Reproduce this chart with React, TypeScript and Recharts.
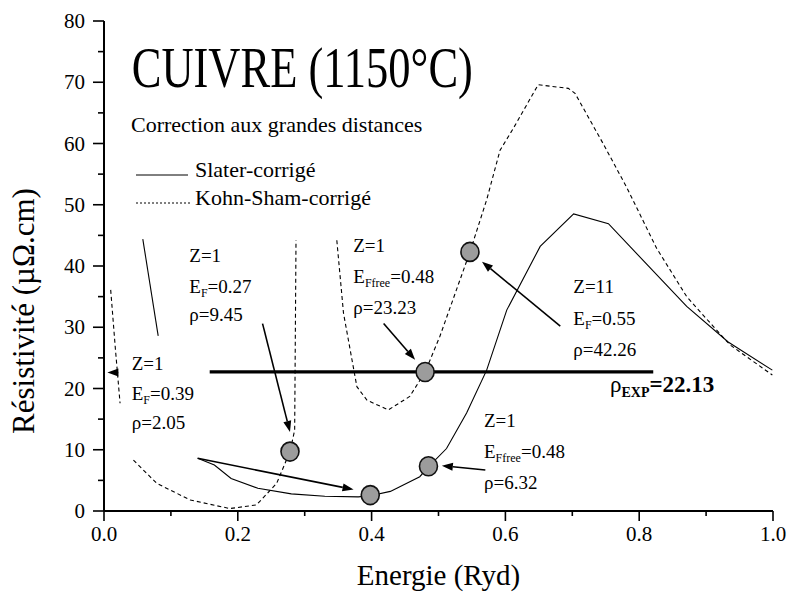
import React from 'react';
import { ComposedChart, Line, Scatter, XAxis, YAxis, ReferenceLine, ReferenceDot, Legend } from 'recharts';

const FONT = 'Liberation Serif';

// ---- axes ----
const xTicks = [0, 0.1, 0.2, 0.3, 0.4, 0.5, 0.6, 0.7, 0.8, 0.9, 1.0];
const xMajorTicks = [0, 0.2, 0.4, 0.6, 0.8, 1.0];
const xMajorLabels = ['0.0', '0.2', '0.4', '0.6', '0.8', '1.0'];
const yTicks = [0, 5, 10, 15, 20, 25, 30, 35, 40, 45, 50, 55, 60, 65, 70, 75, 80];
const yMajorTicks = [0, 10, 20, 30, 40, 50, 60, 70, 80];
const yMajorLabels = ['0', '10', '20', '30', '40', '50', '60', '70', '80'];

// ---- series ----
const slaterUpper = [
  { x: 0.058, y: 44.4 }, { x: 0.081, y: 28.6 },
];
const slaterMain = [
  { x: 0.140, y: 8.6 }, { x: 0.165, y: 7.5 }, { x: 0.19, y: 5.3 }, { x: 0.23, y: 3.7 },
  { x: 0.28, y: 2.8 }, { x: 0.33, y: 2.4 }, { x: 0.38, y: 2.3 }, { x: 0.398, y: 2.5 },
  { x: 0.428, y: 3.2 }, { x: 0.472, y: 5.6 }, { x: 0.485, y: 7.2 }, { x: 0.512, y: 10.2 },
  { x: 0.542, y: 16.0 }, { x: 0.572, y: 23.0 }, { x: 0.602, y: 32.8 }, { x: 0.652, y: 43.2 },
  { x: 0.702, y: 48.5 }, { x: 0.754, y: 46.9 }, { x: 0.871, y: 33.4 }, { x: 0.933, y: 27.6 },
  { x: 0.999, y: 23.0 },
];
const kohnA = [
  { x: 0.010, y: 36.1 }, { x: 0.017, y: 26.5 }, { x: 0.024, y: 17.6 },
];
const kohnB = [
  { x: 0.044, y: 8.3 }, { x: 0.079, y: 4.5 }, { x: 0.129, y: 1.8 }, { x: 0.188, y: 0.4 },
  { x: 0.228, y: 1.0 }, { x: 0.258, y: 4.5 }, { x: 0.278, y: 9.7 }, { x: 0.285, y: 13.2 },
  { x: 0.287, y: 44.2 },
];
const kohnC = [
  { x: 0.348, y: 44.2 }, { x: 0.358, y: 32.3 }, { x: 0.378, y: 20.3 }, { x: 0.393, y: 18.1 },
  { x: 0.425, y: 16.5 }, { x: 0.457, y: 18.7 }, { x: 0.480, y: 22.7 }, { x: 0.502, y: 28.5 },
  { x: 0.547, y: 42.3 }, { x: 0.572, y: 50.8 }, { x: 0.592, y: 58.9 }, { x: 0.612, y: 62.5 },
  { x: 0.649, y: 69.6 }, { x: 0.694, y: 69.0 }, { x: 0.704, y: 68.2 }, { x: 0.746, y: 60.0 },
  { x: 0.781, y: 52.9 }, { x: 0.826, y: 42.9 }, { x: 0.871, y: 35.0 }, { x: 0.911, y: 30.1 },
  { x: 0.936, y: 27.1 }, { x: 0.999, y: 22.2 },
];
const rhoExpLine = [{ x: 0.158, y: 22.7 }, { x: 0.821, y: 22.7 }];
const markedPoints = [
  { x: 0.278, y: 9.7 }, { x: 0.398, y: 2.6 }, { x: 0.485, y: 7.3 },
  { x: 0.480, y: 22.7 }, { x: 0.547, y: 42.3 },
];
const arrowFromX = [0.237, 0.140, 0.418, 0.682, 0.570, 0.021];
const arrowFromY = [30.6, 8.6, 30.6, 30.2, 6.7, 22.6];
const arrowToX = [0.278, 0.373, 0.465, 0.565, 0.505, 0.005];
const arrowToY = [12.9, 3.5, 24.7, 40.7, 7.4, 22.6];

// ---- annotations ----
const noteX = [0.1275, 0.1275, 0.1275, 0.0414, 0.0414, 0.0414, 0.3726, 0.3726, 0.3726, 0.7015, 0.7015, 0.7015, 0.568, 0.568, 0.568];
const noteY = [40.7, 35.54, 31.02, 23.02, 18.12, 13.39, 42.33, 37.18, 32.16, 35.64, 30.37, 25.31, 13.76, 8.6, 3.59];
const noteMain = ['Z=1', 'E', 'ρ=9.45', 'Z=1', 'E', 'ρ=2.05', 'Z=1', 'E', 'ρ=23.23', 'Z=11', 'E', 'ρ=42.26', 'Z=1', 'E', 'ρ=6.32'];
const noteSub = ['', 'F', '', '', 'F', '', '', 'Ffree', '', '', 'F', '', '', 'Ffree', ''];
const noteRest = ['', '=0.27', '', '', '=0.39', '', '', '=0.48', '', '', '=0.55', '', '', '=0.48', ''];

const titleText = 'CUIVRE (1150°C)';
const titlePos = { x: 0.0414, y: 69.18 };
const rhoExpPos = { x: 0.7564, y: 19.4 };
const legendTitle = 'Correction aux grandes distances';
const legendNames = ['Slater-corrigé', 'Kohn-Sham-corrigé'];

const near = (a: number, b: number) => Math.abs(a - b) < 1e-6;

const BottomTick = (p: any) => {
  const v = p.payload.value;
  const i = xMajorTicks.findIndex((t) => near(t, v));
  const major = i >= 0;
  return (
    <g>
      <line x1={p.x} y1={p.y} x2={p.x} y2={p.y + (major ? 10 : 5)} stroke="#000" strokeWidth={1.6} />
      {major && (
        <text x={p.x} y={p.y + 30} textAnchor="middle" fontFamily={FONT} fontSize={21} fill="#000">
          {xMajorLabels[i]}
        </text>
      )}
    </g>
  );
};
const TopTick = (p: any) => {
  const v = p.payload.value;
  const major = xMajorTicks.some((t) => near(t, v));
  return <line x1={p.x} y1={p.y} x2={p.x} y2={p.y + (major ? 10 : 6)} stroke="#000" strokeWidth={1.6} />;
};
const LeftTick = (p: any) => {
  const v = p.payload.value;
  const i = yMajorTicks.findIndex((t) => near(t, v));
  const major = i >= 0;
  return (
    <g>
      <line x1={p.x - (major ? 11 : 6)} y1={p.y} x2={p.x} y2={p.y} stroke="#000" strokeWidth={1.6} />
      {major && (
        <text x={p.x - 19} y={p.y + 7} textAnchor="end" fontFamily={FONT} fontSize={21} fill="#000">
          {yMajorLabels[i]}
        </text>
      )}
    </g>
  );
};
const RightTick = (p: any) => {
  const v = p.payload.value;
  const major = yMajorTicks.some((t) => near(t, v));
  return <line x1={p.x - (major ? 11 : 6)} y1={p.y} x2={p.x} y2={p.y} stroke="#000" strokeWidth={1.6} />;
};

const ArrowShape = (p: any) => {
  const { x1, y1, x2, y2 } = p;
  const dx = x2 - x1;
  const dy = y2 - y1;
  const L = Math.hypot(dx, dy) || 1;
  const ux = dx / L;
  const uy = dy / L;
  const hl = 11;
  const hw = 4;
  const bx = x2 - ux * hl;
  const by = y2 - uy * hl;
  const pts = `${x2},${y2} ${bx - uy * hw},${by + ux * hw} ${bx + uy * hw},${by - ux * hw}`;
  return (
    <g>
      <line x1={x1} y1={y1} x2={bx} y2={by} stroke="#000" strokeWidth={1.6} />
      <polygon points={pts} fill="#000" />
    </g>
  );
};

const PointShape = (p: any) => (
  <ellipse cx={p.cx} cy={p.cy} rx={9} ry={9.5} fill="#9c9c9c" stroke="#111" strokeWidth={1.6} />
);

const LegendBox = () => (
  <svg width={300} height={115} style={{ display: 'block', overflow: 'visible' }}>
    <text x={3} y={31.7} fontFamily={FONT} fontSize={22} fill="#000">{legendTitle}</text>
    <line x1={8} y1={75} x2={60} y2={75} stroke="#000" strokeWidth={1} />
    <text x={67} y={76.7} fontFamily={FONT} fontSize={22} fill="#000">{legendNames[0]}</text>
    <line x1={8} y1={103} x2={62} y2={103} stroke="#000" strokeWidth={1} strokeDasharray="2 2" />
    <text x={67} y={105} fontFamily={FONT} fontSize={22} fill="#000">{legendNames[1]}</text>
  </svg>
);

export default function App() {
  return (
    <div style={{ position: 'absolute', left: 0, top: 0, background: '#fff' }}>
      <ComposedChart width={789} height={594} margin={{ top: 21, right: 16, bottom: 53, left: 44 }}>
        <XAxis
          xAxisId="b" type="number" dataKey="x" domain={[0, 1]} allowDataOverflow ticks={xTicks}
          interval={0} tickSize={0} tickMargin={0} tickLine={false} tick={<BottomTick />} height={30}
          axisLine={{ stroke: '#000', strokeWidth: 2 }}
          label={{
            content: (props: any) => {
              const vb = props.viewBox || { x: 104, y: 511, width: 669 };
              return (
                <text x={vb.x + vb.width / 2} y={vb.y + 74} textAnchor="middle" fontFamily={FONT} fontSize={29} fill="#000">
                  Energie (Ryd)
                </text>
              );
            },
          }}
        />
        <XAxis
          xAxisId="t" orientation="top" type="number" dataKey="x" domain={[0, 1]} allowDataOverflow ticks={xTicks}
          interval={0} tickSize={0} tickMargin={0} tickLine={false} tick={<TopTick />} height={0}
          axisLine={{ stroke: '#000', strokeWidth: 2 }}
        />
        <YAxis
          yAxisId="l" type="number" dataKey="y" domain={[0, 80]} allowDataOverflow ticks={yTicks}
          interval={0} tickSize={0} tickMargin={0} tickLine={false} tick={<LeftTick />} width={60}
          axisLine={{ stroke: '#000', strokeWidth: 2 }}
          label={{
            content: (props: any) => {
              const vb = props.viewBox || { x: 44, y: 21, width: 60, height: 490 };
              const cx = vb.x - 10;
              const cy = vb.y + 290;
              return (
                <text x={cx} y={cy} transform={`rotate(-90 ${cx} ${cy})`} textAnchor="middle" fontFamily={FONT} fontSize={31} fill="#000">
                  Résistivité (µΩ.cm)
                </text>
              );
            },
          }}
        />
        <YAxis
          yAxisId="r" orientation="right" type="number" dataKey="y" domain={[0, 80]} allowDataOverflow ticks={yTicks}
          interval={0} tickSize={0} tickMargin={0} tickLine={false} tick={<RightTick />} width={0}
          axisLine={{ stroke: '#000', strokeWidth: 2 }}
        />

        <Legend
          verticalAlign="middle" layout="horizontal" align="center"
          wrapperStyle={{ left: 128, top: 100, width: 300, height: 115 }}
          content={() => <LegendBox />}
        />

        <Line xAxisId="b" yAxisId="l" data={slaterUpper} dataKey="y" type="linear" stroke="#000" strokeWidth={1.1} dot={false} activeDot={false} isAnimationActive={false} legendType="none" />
        <Line xAxisId="b" yAxisId="l" data={slaterMain} dataKey="y" type="linear" stroke="#000" strokeWidth={1.1} dot={false} activeDot={false} isAnimationActive={false} legendType="none" />
        <Line xAxisId="b" yAxisId="l" data={kohnA} dataKey="y" type="linear" stroke="#000" strokeWidth={1.1} strokeDasharray="4 3" dot={false} activeDot={false} isAnimationActive={false} legendType="none" />
        <Line xAxisId="b" yAxisId="l" data={kohnB} dataKey="y" type="linear" stroke="#000" strokeWidth={1.1} strokeDasharray="4 3" dot={false} activeDot={false} isAnimationActive={false} legendType="none" />
        <Line xAxisId="b" yAxisId="l" data={kohnC} dataKey="y" type="linear" stroke="#000" strokeWidth={1.1} strokeDasharray="4 3" dot={false} activeDot={false} isAnimationActive={false} legendType="none" />
        <Line xAxisId="b" yAxisId="l" data={rhoExpLine} dataKey="y" type="linear" stroke="#000" strokeWidth={3.2} dot={false} activeDot={false} isAnimationActive={false} legendType="none" />

        {arrowFromX.map((fx, i) => (
          <ReferenceLine
            key={`ar${i}`} xAxisId="b" yAxisId="l"
            segment={[{ x: fx, y: arrowFromY[i] }, { x: arrowToX[i], y: arrowToY[i] }]}
            stroke="#000" shape={ArrowShape}
          />
        ))}

        <Scatter xAxisId="b" yAxisId="l" data={markedPoints} dataKey="y" shape={PointShape} isAnimationActive={false} legendType="none" />

        <ReferenceDot
          xAxisId="b" yAxisId="l" x={titlePos.x} y={titlePos.y} r={0}
          shape={(p: any) => (
            <text transform={`translate(${p.cx},${p.cy}) scale(1,1.28)`} fontFamily={FONT} fontSize={44.5} fill="#000">
              {titleText}
            </text>
          )}
        />

        {noteX.map((nx, i) => (
          <ReferenceDot
            key={`n${i}`} xAxisId="b" yAxisId="l" x={nx} y={noteY[i]} r={0}
            shape={(p: any) => (
              <text x={p.cx} y={p.cy} fontFamily={FONT} fontSize={19} fill="#000">
                {noteMain[i]}
                {noteSub[i] && <tspan fontSize={12} dy={4}>{noteSub[i]}</tspan>}
                {noteSub[i] && <tspan dy={-4}>{noteRest[i]}</tspan>}
              </text>
            )}
          />
        ))}

        <ReferenceDot
          xAxisId="b" yAxisId="l" x={rhoExpPos.x} y={rhoExpPos.y} r={0}
          shape={(p: any) => (
            <text x={p.cx} y={p.cy} fontFamily={FONT} fontSize={23} fill="#000">
              ρ
              <tspan fontSize={14} fontWeight="bold" dy={5}>EXP</tspan>
              <tspan fontWeight="bold" dy={-5}>=22.13</tspan>
            </text>
          )}
        />
      </ComposedChart>
    </div>
  );
}
